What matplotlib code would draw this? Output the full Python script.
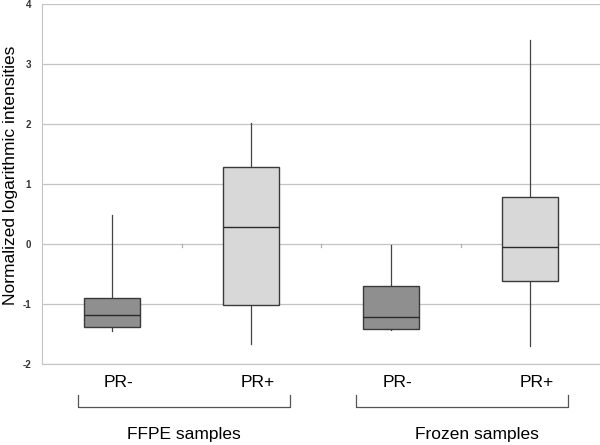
import numpy as np
import matplotlib.pyplot as plt

plt.rcParams['font.family'] = ['Liberation Sans', 'DejaVu Sans']

# box statistics
labels = ["PR-", "PR+", "PR-", "PR+"]
whislo = [-1.45, -1.67, -1.43, -1.70]
q1 = [-1.38, -1.02, -1.42, -0.62]
med = [-1.18, 0.28, -1.21, -0.05]
q3 = [-0.90, 1.28, -0.70, 0.78]
whishi = [0.48, 2.02, -0.02, 3.40]
box_colors = ["#8f8f8f", "#d8d8d8", "#8f8f8f", "#d8d8d8"]
groups = ["FFPE samples", "Frozen samples"]
yticks = [-2, -1, 0, 1, 2, 3, 4]

stats = []
for i in range(len(labels)):
    stats.append(dict(whislo=whislo[i], q1=q1[i], med=med[i], q3=q3[i],
                      whishi=whishi[i], fliers=[], label=labels[i]))

fig = plt.figure(figsize=(6, 4.45), dpi=100)
ax = fig.add_axes([0.07, 0.182, 0.93, 0.809])

pos = np.arange(len(labels))
bp = ax.bxp(stats, positions=pos, widths=0.4, patch_artist=True,
            showcaps=False,
            boxprops=dict(edgecolor="#3a3a3a", linewidth=1.0),
            medianprops=dict(color="#2a2a2a", linewidth=1.0),
            whiskerprops=dict(color="#444444", linewidth=0.9))
for patch, c in zip(bp["boxes"], box_colors):
    patch.set_facecolor(c)
for w in bp["whiskers"]:
    w.set_zorder(1)

ax.set_xlim(-0.5, 3.5)
ax.set_ylim(-2, 4)
ax.set_yticks(yticks)
ax.set_yticklabels([str(t) for t in yticks], fontsize=7, fontweight="bold",
                   color="#333333")
ax.tick_params(axis="y", length=0, pad=8)
ax.set_xticks([])
ax.grid(axis="y", color="#c4c4c4", linewidth=0.9)
ax.set_axisbelow(True)
for s in ["top", "right"]:
    ax.spines[s].set_visible(False)
ax.spines["left"].set_color("#c4c4c4")
ax.spines["bottom"].set_color("#c4c4c4")

# small category ticks on the zero line
for b in [0.5, 1.5, 2.5, 3.5]:
    ax.plot([b, b], [0, -0.05], color="#b0b0b0", lw=0.9, clip_on=False)

ax.set_ylabel("Normalized logarithmic intensities", fontsize=12.5)
ax.yaxis.set_label_coords(-0.043, 0.525)

for p, lab in zip(pos, labels):
    ax.text(p + 0.05, -2.3, lab, ha="center", va="center", fontsize=12.5,
            clip_on=False)

# brackets below the categories
brackets = [(-0.24, 1.28), (1.75, 3.27)]
for x0, x1 in brackets:
    ax.plot([x0, x0, x1, x1], [-2.52, -2.72, -2.72, -2.52], color="#555555",
            lw=0.9, clip_on=False)
ax.text(0.52, -3.18, groups[0], ha="center", va="center", fontsize=12.5)
ax.text(2.62, -3.18, groups[1], ha="center", va="center", fontsize=12.5)

fig.savefig("out.png", dpi=100)
